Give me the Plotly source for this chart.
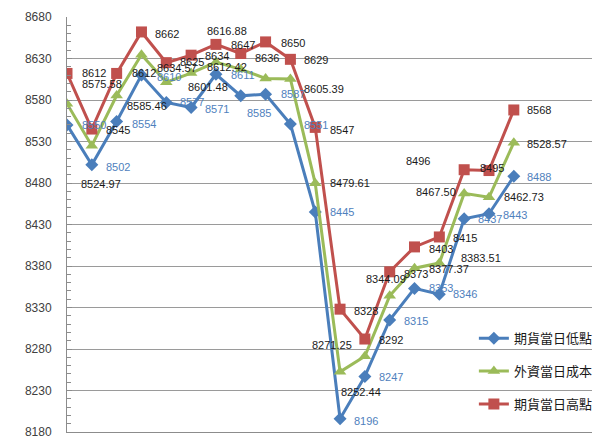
import plotly.graph_objects as go

# ---- data ----
day_index = list(range(19))
names = ["期貨當日低點", "外資當日成本", "期貨當日高點"]

low = [8550, 8502, 8554, 8610, 8577, 8571, 8611, 8585, 8587, 8551,
       8445, 8196, 8247, 8315, 8353, 8346, 8437, 8443, 8488]
cost = [8575.58, 8524.97, 8585.46, 8634.57, 8601.48, 8612.42, 8625.6, 8616.88, 8606, 8605.39,
        8479.61, 8252.44, 8271.25, 8344.09, 8377.37, 8383.51, 8467.50, 8462.73, 8528.57]
high = [8612, 8545, 8612, 8662, 8625, 8634, 8647, 8636, 8650, 8629,
        8547, 8328, 8292, 8373, 8403, 8415, 8496, 8495, 8568]

low_text = ["8550", "8502", "8554", "8610", "8577", "8571", "8611", "8585", "8587", "8551",
            "8445", "8196", "8247", "8315", "8353", "8346", "8437", "8443", "8488"]
cost_text = ["8575.58", "8524.97", "8585.46", "8634.57", "8601.48", "8612.42", None, "8616.88", None, "8605.39",
             "8479.61", "8252.44", "8271.25", "8344.09", "8377.37", "8383.51", "8467.50", "8462.73", "8528.57"]
high_text = [str(v) for v in high]

y_ticks = list(range(8180, 8681, 50))

# ---- label placement (pixel offsets from the point; dy positive = down) ----
low_dx = [13, 12, 13, 14, 12, 12, 13, 4, 13, 12, 13, 12, 12, 12, 12, 12, 12, 12, 11]
low_dy = [0, 2, 2, 2, 0, 2, 1, 17, 0, 1, 0, 2, 1, 1, 0, 0, 0, 1, 1]
cost_dx = [13, -13, 8, 14, 20, 14, 0, -36, 0, 12, 13, -1, -55, -26, 12, 20, -50, 13, 11]
cost_dy = [-20, 38, 11, 13, 5, -6, 0, -38, 0, 10, 0, 20, -11, -17, 1, -5, -1, 0, 1]
high_dx = [13, 12, 13, 12, 12, 12, 13, 12, 13, 12, 13, 12, 12, 12, 12, 12, -60, -11, 11]
high_dy = [0, 1, 0, 2, -1, 1, 1, 4, 1, 1, 3, 2, 1, 2, 2, 1, -9, -3, 0]

BLUE = "#4A7EBB"
GREEN = "#9BBB59"
RED = "#C0504D"
LABEL_BLUE = "#4F81BD"

fig = go.Figure()
fig.add_trace(go.Scatter(x=day_index, y=low, name=names[0], mode="lines+markers",
                         line=dict(color=BLUE, width=3),
                         marker=dict(symbol="diamond", size=10, color=BLUE),
                         legendgroup="a"))
fig.add_trace(go.Scatter(x=day_index, y=cost, name=names[1], mode="lines+markers",
                         line=dict(color=GREEN, width=3),
                         marker=dict(symbol="triangle-up", size=11, color=GREEN),
                         legendgroup="b"))
fig.add_trace(go.Scatter(x=day_index, y=high, name=names[2], mode="lines+markers",
                         line=dict(color=RED, width=3),
                         marker=dict(symbol="square", size=11, color=RED),
                         legendgroup="c"))

annotations = []
def add_labels(values, texts, dxs, dys, color):
    for i, (v, t) in enumerate(zip(values, texts)):
        if t is None:
            continue
        annotations.append(dict(
            x=day_index[i], y=v, xref="x", yref="y", text=t, showarrow=False,
            xanchor="left", yanchor="middle", xshift=dxs[i], yshift=-dys[i],
            font=dict(family="Liberation Sans, Arial, sans-serif", size=11, color=color)))

add_labels(low, low_text, low_dx, low_dy, LABEL_BLUE)
add_labels(cost, cost_text, cost_dx, cost_dy, "#1a1a1a")
add_labels(high, high_text, high_dx, high_dy, "#1a1a1a")

fig.update_layout(
    width=600, height=441,
    margin=dict(l=67, r=2, t=17, b=3),
    paper_bgcolor="white", plot_bgcolor="white",
    annotations=annotations,
    showlegend=True,
    legend=dict(x=0.775, y=0.262, xanchor="left", yanchor="top",
                bgcolor="rgba(0,0,0,0)", tracegroupgap=13, itemwidth=30,
                font=dict(family="Noto Sans CJK TC, sans-serif", size=13, color="#1a1a1a")),
)
fig.update_xaxes(range=[0, 21.15], showgrid=False, zeroline=False, showticklabels=False,
                 showline=True, linecolor="#8c8c8c", linewidth=1, ticks="")
fig.update_yaxes(range=[8180, 8680], tickvals=y_ticks, showgrid=True, gridcolor="#9a9a9a",
                 gridwidth=1, zeroline=False, showline=True, linecolor="#8c8c8c", linewidth=1,
                 ticks="inside", ticklen=5, tickcolor="#8c8c8c", ticklabelstandoff=12,
                 ticklabeloverflow="allow",
                 tickfont=dict(family="Liberation Sans, Arial, sans-serif", size=12, color="#404040"),
                 minor=dict(dtick=10, ticks="inside", ticklen=4, tickcolor="#8c8c8c", showgrid=False))

fig.write_html("out.html")
